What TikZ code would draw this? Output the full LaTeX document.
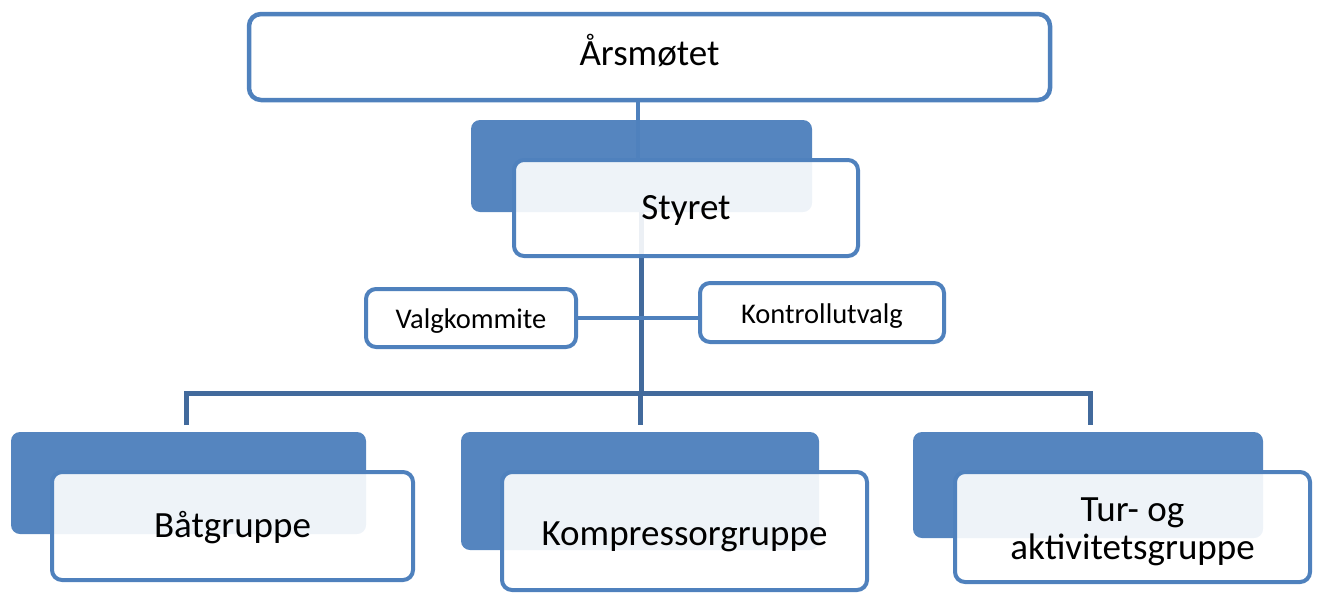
\documentclass[tikz,border=0pt]{standalone}
\usepackage{fontspec}
\setmainfont{Carlito}
\definecolor{boxblue}{HTML}{4F81BD}
\definecolor{linkblue}{HTML}{426A9C}
\pgfdeclarelayer{bg}
\pgfsetlayers{bg,main}
\tikzset{
  topbox/.style={draw=boxblue, line width=4.5pt, rounded corners=12pt, fill=white, inner sep=0pt,
    font=\fontsize{37}{40}\selectfont, align=center},
  frontbox/.style={draw=boxblue, line width=4pt, rounded corners=10pt, fill=white, fill opacity=0.9,
    text opacity=1, inner sep=0pt, font=\fontsize{37}{40}\selectfont, align=center},
  smallbox/.style={frontbox, fill opacity=1, font=\fontsize{28.5}{32}\selectfont},
  backbox/.style={fill=boxblue, rounded corners=9pt, inner sep=0pt, fill opacity=0.97},
  link/.style={draw=linkblue, line width=5pt},
  toplink/.style={draw=boxblue, line width=4pt},
}
% text placed with its baseline half the given length below the node centre
\newcommand{\basedown}[2]{\raisebox{0pt}[#1][0pt]{#2}}
\begin{document}
\begin{tikzpicture}[x=1pt,y=-1pt]
\useasboundingbox (0,0) rectangle (1317,592);

% top box
\node[topbox, minimum width=801pt, minimum height=86pt] (ars) at (649.5,57) {\basedown{17pt}{Årsmøtet}};

% Styret
\node[backbox, minimum width=341pt, minimum height=92pt] (stb) at (641.5,166) {};
\node[frontbox, minimum width=344pt, minimum height=96pt] (stf) at (686,208) {\basedown{23pt}{Styret}};

% side boxes
\node[smallbox, minimum width=210pt, minimum height=58pt] (valg) at (471,318) {\basedown{21pt}{Valgkommite}};
\node[smallbox, minimum width=244pt, minimum height=59pt] (kontr) at (822,312.5) {\basedown{22pt}{Kontrollutvalg}};

% groups
\node[backbox, minimum width=355pt, minimum height=102pt] (batb) at (188.5,483) {};
\node[frontbox, minimum width=361pt, minimum height=108pt] (batf) at (232.5,526) {\basedown{22pt}{Båtgruppe}};

\node[backbox, minimum width=358pt, minimum height=118pt] (kompb) at (640,491) {};
\node[frontbox, minimum width=365pt, minimum height=118pt] (kompf) at (684.5,531) {\basedown{28pt}{Kompressorgruppe}};

\node[backbox, minimum width=350pt, minimum height=106pt] (turb) at (1088,485) {};
\node[frontbox, minimum width=355pt, minimum height=110pt, font=\fontsize{37}{38}\selectfont] (turf) at (1132.5,527)
  {\raisebox{0pt}[47pt][22.2pt]{\begin{tabular}{@{}c@{}}Tur- og\\aktivitetsgruppe\end{tabular}}};

% helper coordinates
\coordinate (topx) at (638,0);
\coordinate (trunk) at (641,0);
\coordinate (busy) at (0,393);
\coordinate (d1) at (186,425);
\coordinate (d2) at (640,425);
\coordinate (d3) at (1090,425);

\begin{pgfonlayer}{bg}
  \draw[toplink] (ars.south -| topx) -- (stf.north -| topx);
  \draw[link] (stb.south -| trunk) -- (trunk |- busy);
  \draw[toplink] (valg.east) -- (valg.east -| kontr.west);
  \draw[link] (d1) -- (d1 |- busy) -- (d3 |- busy) -- (d3);
  \draw[link] (d2 |- busy) -- (d2);
\end{pgfonlayer}
\end{tikzpicture}
\end{document}
